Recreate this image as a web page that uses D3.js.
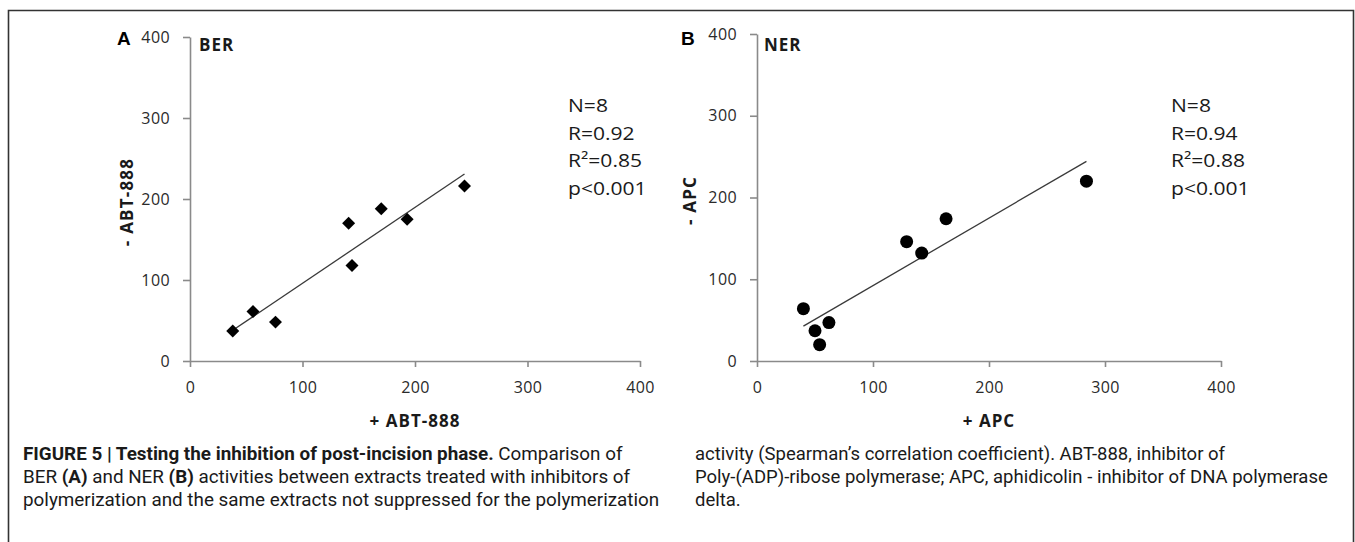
<!DOCTYPE html>
<html><head><meta charset="utf-8">
<script src="https://cdn.jsdelivr.net/npm/d3@7"></script>
<style>
html,body{margin:0;padding:0;background:#fff;}
svg{display:block;}
</style></head>
<body><svg id="chart" width="1355" height="542"></svg>
<script>
// ---- data ----
const tickValues = [0, 100, 200, 300, 400];
const berX = [38, 56, 76, 141, 144, 170, 193, 244];
const berY = [37, 61, 48, 170, 118, 188, 175, 216];
const nerX = [40, 50, 54, 62, 129, 142, 163, 284];
const nerY = [64, 37, 20, 47, 146, 132, 174, 220];
const berStats = ["N=8", "R=0.92", "R²=0.85", "p<0.001"];
const nerStats = ["N=8", "R=0.94", "R²=0.88", "p<0.001"];
const panelLetters = ["A", "B"];
const panelTitles = ["BER", "NER"];
const xTitles = ["+ ABT-888", "+ APC"];
const yTitles = ["- ABT-888", "- APC"];
const captionLeft = [
  [["FIGURE 5 | Testing the inhibition of post-incision phase.", true], [" Comparison of", false]],
  [["BER ", false], ["(A)", true], [" and NER ", false], ["(B)", true], [" activities between extracts treated with inhibitors of", false]],
  [["polymerization and the same extracts not suppressed for the polymerization", false]]
];
const captionRight = [
  [["activity (Spearman’s correlation coefficient). ABT-888, inhibitor of", false]],
  [["Poly-(ADP)-ribose polymerase; APC, aphidicolin - inhibitor of DNA polymerase", false]],
  [["delta.", false]]
];

// ---- layout ----
const svg = d3.select("#chart");
const W = 1355, H = 542;
svg.append("rect").attr("width", W).attr("height", H).attr("fill", "#fff");
svg.append("path").attr("d", `M8.5,${H} V10.5 H1353.5 V${H}`)
  .attr("fill", "none").attr("stroke", "#333").attr("stroke-width", 1.6);

const panels = [
  {xs: berX, ys: berY, stats: berStats, left: 190, right: 640, top: 37, bottom: 361,
   letterX: 117, titleX: 199, yTitleX: 133, statsX: 568, symbol: "diamond"},
  {xs: nerX, ys: nerY, stats: nerStats, left: 757, right: 1221, top: 34, bottom: 361,
   letterX: 681, titleX: 764, yTitleX: 696, statsX: 1171, symbol: "circle"}
];

function regression(xs, ys) {
  const n = xs.length, mx = d3.mean(xs), my = d3.mean(ys);
  let sxy = 0, sxx = 0;
  for (let i = 0; i < n; i++) { sxy += (xs[i] - mx) * (ys[i] - my); sxx += (xs[i] - mx) ** 2; }
  const b = sxy / sxx, a = my - b * mx;
  return x => a + b * x;
}

const axisColor = "#8a8a8a";
const tickFont = "'Open Sans', sans-serif";

panels.forEach((p, i) => {
  const x = d3.scaleLinear().domain([0, 400]).range([p.left, p.right]);
  const y = d3.scaleLinear().domain([0, 400]).range([p.bottom, p.top]);
  const g = svg.append("g");

  const xa = g.append("g").attr("transform", `translate(0,${p.bottom})`)
    .call(d3.axisBottom(x).tickValues(tickValues).tickSize(6).tickSizeOuter(0).tickPadding(15));
  const ya = g.append("g").attr("transform", `translate(${p.left},0)`)
    .call(d3.axisLeft(y).tickValues(tickValues).tickSize(7).tickSizeOuter(0).tickPadding(13));
  [xa, ya].forEach(a => {
    a.select(".domain").attr("stroke", axisColor).attr("stroke-width", 1.6);
    a.selectAll(".tick line").attr("stroke", axisColor).attr("stroke-width", 1.6);
    a.selectAll(".tick text").attr("fill", "#2a2a2a").style("font-family", tickFont)
      .style("font-size", "16px").style("letter-spacing", "0.4px");
  });

  // trend line
  const f = regression(p.xs, p.ys);
  const x0 = d3.min(p.xs), x1 = d3.max(p.xs);
  g.append("line")
    .attr("x1", x(x0)).attr("y1", y(f(x0)))
    .attr("x2", x(x1)).attr("y2", y(f(x1)))
    .attr("stroke", "#3a3a3a").attr("stroke-width", 1.3);

  // points
  const pts = p.xs.map((v, k) => [v, p.ys[k]]);
  if (p.symbol === "diamond") {
    const sym = d3.symbol(d3.symbolSquare, 84)();
    g.selectAll("path.pt").data(pts).join("path").attr("class", "pt")
      .attr("d", sym)
      .attr("transform", d => `translate(${x(d[0])},${y(d[1])}) rotate(45)`)
      .attr("fill", "#000");
  } else {
    g.selectAll("circle.pt").data(pts).join("circle").attr("class", "pt")
      .attr("cx", d => x(d[0])).attr("cy", d => y(d[1])).attr("r", 6.5)
      .attr("fill", "#000");
  }

  // labels
  g.append("text").attr("x", p.letterX).attr("y", 45).text(panelLetters[i])
    .style("font-family", "'Liberation Sans', Arial, sans-serif").style("font-weight", "bold")
    .style("font-size", "19px").attr("fill", "#000");
  g.append("text").attr("x", p.titleX).attr("y", 51).text(panelTitles[i])
    .style("font-family", tickFont).style("font-weight", "bold")
    .style("font-size", "17px").style("letter-spacing", "1px").attr("fill", "#1a1a1a");
  g.append("text").attr("x", (p.left + p.right) / 2).attr("y", 427).attr("text-anchor", "middle")
    .text(xTitles[i])
    .style("font-family", tickFont).style("font-weight", "bold")
    .style("font-size", "17px").style("letter-spacing", "1px").attr("fill", "#1a1a1a");
  g.append("text").attr("transform", `translate(${p.yTitleX},${(p.top + p.bottom) / 2 + 3}) rotate(-90)`)
    .attr("text-anchor", "middle").text(yTitles[i])
    .style("font-family", tickFont).style("font-weight", "bold")
    .style("font-size", "17px").style("letter-spacing", "1.2px").attr("fill", "#1a1a1a");

  // stats
  p.stats.forEach((s, k) => {
    g.append("text").attr("transform", `translate(${p.statsX},${112 + k * 27.5}) scale(1.17,1)`)
      .text(s)
      .style("font-family", tickFont).style("font-size", "18px").attr("fill", "#1a1a1a");
  });
});

// caption
const capFont = "'Roboto', 'Liberation Sans', sans-serif";
function captionBlock(lines, x0, refLine, refWidth) {
  const nodes = lines.map(segs => {
    const t = svg.append("text").attr("y", 0)
      .style("font-family", capFont).style("font-size", "18.5px").attr("fill", "#1a1a1a");
    segs.forEach(([txt, bold]) => {
      t.append("tspan").text(txt).style("font-weight", bold ? "bold" : "normal");
    });
    return t;
  });
  const sx = refWidth / nodes[refLine].node().getComputedTextLength();
  nodes.forEach((t, k) => t.attr("transform", `translate(${x0},${460 + k * 23}) scale(${sx},1)`));
}
captionBlock(captionLeft, 23, 2, 637);
captionBlock(captionRight, 695, 1, 633);
</script>
</body></html>
